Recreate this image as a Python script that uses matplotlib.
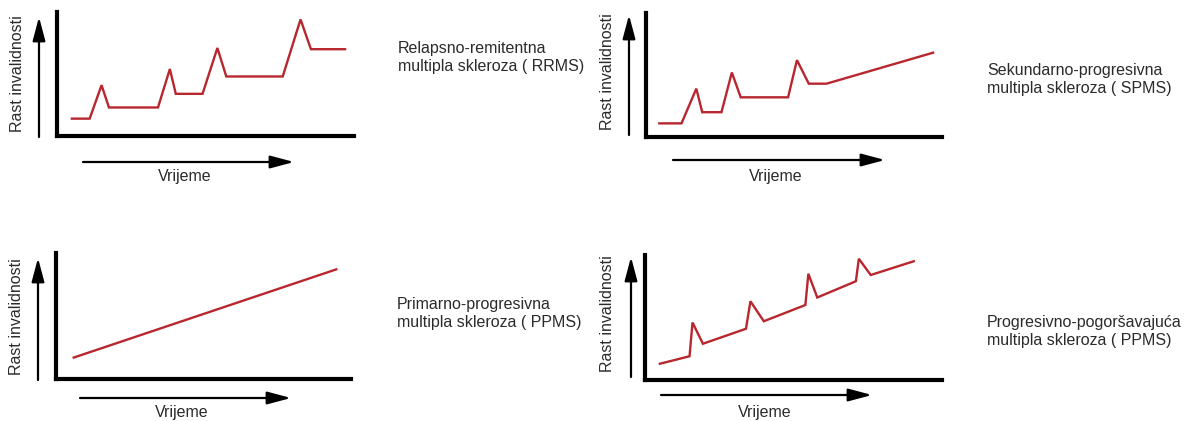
import matplotlib

matplotlib.use("Agg")
import matplotlib.pyplot as plt

# Podaci očitani sa slike (vrijeme / rast invalidnosti, 0-100)
rrms_time = [5, 11, 15, 17.5, 34, 38, 40, 49, 54, 57, 76, 82, 85.5, 97]
rrms_disability = [14, 14, 41, 23, 23, 54, 34, 34, 71, 48, 48, 94, 70, 70]

spms_time = [4.5, 12, 17, 19, 25.5, 29, 32, 48, 51, 55, 61, 97]
spms_disability = [11, 11, 39, 20, 20, 52, 32, 32, 62, 43, 43, 68]

ppms_time = [6, 95]
ppms_disability = [17, 87]

prms_time = [5, 15, 16, 19.5, 34, 35.5, 40, 54, 55, 58, 71, 72, 76, 90.5]
prms_disability = [13, 19, 46, 29, 41, 63, 47, 60, 85, 66, 79, 97, 84, 95]

titles = [
    "Relapsno-remitentna\nmultipla skleroza ( RRMS)",
    "Sekundarno-progresivna\nmultipla skleroza ( SPMS)",
    "Primarno-progresivna\nmultipla skleroza ( PPMS)",
    "Progresivno-pogoršavajuća\nmultipla skleroza ( PPMS)",
]
x_label = "Vrijeme"
y_label = "Rast invalidnosti"

W, H = 1198, 421
RED = "#b8262e"
TEXT = "#2b2b2b"
FS = 11.5

plt.rcParams["font.family"] = ["Liberation Sans", "DejaVu Sans"]

fig = plt.figure(figsize=(W / 100, H / 100), dpi=100)


def fx(px):
    return px / W


def fy(py):
    return 1 - py / H


def arrow(x0, y0, x1, y1):
    fig.add_artist(
        matplotlib.patches.FancyArrowPatch(
            (fx(x0), fy(y0)),
            (fx(x1), fy(y1)),
            transform=fig.transFigure,
            arrowstyle="-|>,head_length=1.2,head_width=0.32",
            mutation_scale=12,
            lw=1.6,
            color="black",
            shrinkA=0,
            shrinkB=0,
        )
    )


# (lijevo, gore, desno, dolje) u pikselima, strelice, oznake, tekst
panels = [
    dict(box=(57, 12, 354, 136), t=rrms_time, d=rrms_disability,
         yarr=(39, 137, 17), xarr=(162, 83, 294), xl=(185, 176), yl=(18, 74),
         title=(398, 57)),
    dict(box=(646, 13, 942, 137), t=spms_time, d=spms_disability,
         yarr=(629, 135, 15), xarr=(160, 673, 885), xl=(776, 176), yl=(608, 72),
         title=(987, 80)),
    dict(box=(56, 253, 351, 379), t=ppms_time, d=ppms_disability,
         yarr=(38, 380, 258), xarr=(398, 80, 291), xl=(182, 413), yl=(17, 317),
         title=(397, 313)),
    dict(box=(645, 255, 942, 380), t=prms_time, d=prms_disability,
         yarr=(631, 377, 257), xarr=(395, 661, 872), xl=(765, 412), yl=(608, 314),
         title=(987, 332)),
]

for p, title in zip(panels, titles):
    l, t, r, b = p["box"]
    ax = fig.add_axes([fx(l), fy(b), fx(r - l), (b - t) / H])
    ax.plot(p["t"], p["d"], color=RED, lw=1.7, solid_joinstyle="miter")
    ax.set_xlim(0, 100)
    ax.set_ylim(0, 100)
    for side in ("top", "right"):
        ax.spines[side].set_visible(False)
    for side in ("left", "bottom"):
        ax.spines[side].set_linewidth(3)
        ax.spines[side].set_color("black")
    ax.set_xticks([])
    ax.set_yticks([])
    ax.patch.set_alpha(0)

    x, y0, y1 = p["yarr"]
    arrow(x, y0, x, y1)
    y, x0, x1 = p["xarr"]
    arrow(x0, y, x1, y)

    fig.text(fx(p["xl"][0]), fy(p["xl"][1]), x_label, ha="center", va="center",
             fontsize=FS, color=TEXT)
    fig.text(fx(p["yl"][0]), fy(p["yl"][1]), y_label, ha="center", va="center",
             rotation=90, fontsize=FS, color=TEXT)
    fig.text(fx(p["title"][0]), fy(p["title"][1]), title, ha="left", va="center",
             fontsize=FS, color=TEXT, linespacing=1.25)

fig.savefig("out.png", dpi=100)
